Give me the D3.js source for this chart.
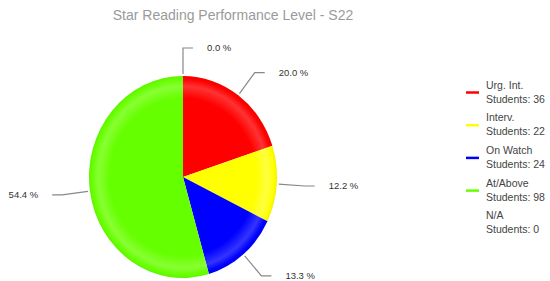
<!DOCTYPE html>
<html>
<head>
<meta charset="utf-8">
<script src="https://cdn.jsdelivr.net/npm/d3@7"></script>
<style>
  body { margin: 0; background: #fff; }
  svg { font-family: "Liberation Sans", Arial, sans-serif; }
</style>
</head>
<body>
<svg id="chart" width="550" height="281"></svg>
<script>
// chart data
const categories = ["Urg. Int.", "Interv.", "On Watch", "At/Above", "N/A"];
const students = [36, 22, 24, 98, 0];
const colors = ["#ff0000", "#ffff00", "#0000ff", "#66ff00", "#cccccc"];
const lighter = ["#ff3333", "#ffff40", "#3434ff", "#88ff33", "#dddddd"];

const title = "Star Reading Performance Level - S22";

let svg = d3.select("#chart");

const cx = 183, cy = 177, rx = 94, ry = 101;

// title
svg.append("text")
    .text(title)
    .attr("x", 233)
    .attr("y", 20)
    .attr("text-anchor", "middle")
    .attr("font-size", 14)
    .attr("fill", "#9a9a9a");

let total = d3.sum(students);

// pie starts at 12 o'clock, zero slice goes first
let order = [4, 0, 1, 2, 3];
let pie = d3.pie()
    .sort(null)
    .value(i => students[i]);
let arcs = pie(order);

// gradients for the rim shading
let defs = svg.append("defs");
colors.forEach((c, i) => {
    let g = defs.append("radialGradient")
        .attr("id", "grad" + i)
        .attr("gradientUnits", "userSpaceOnUse")
        .attr("cx", 0).attr("cy", 0).attr("r", rx);
    g.append("stop").attr("offset", "0%").attr("stop-color", c);
    g.append("stop").attr("offset", "78%").attr("stop-color", c);
    g.append("stop").attr("offset", "90%").attr("stop-color", lighter[i]);
    g.append("stop").attr("offset", "97%").attr("stop-color", c);
    g.append("stop").attr("offset", "100%").attr("stop-color", d3.color(c).darker(0.15));
});

let arc = d3.arc().innerRadius(0).outerRadius(rx);

let pieG = svg.append("g")
    .attr("transform", `translate(${cx},${cy}) scale(1,${ry / rx})`);

pieG.selectAll("path")
    .data(arcs.filter(d => d.value > 0))
    .join("path")
    .attr("d", arc)
    .attr("fill", d => `url(#grad${d.data})`);

// labels with leader lines
let leader = 28, hLen = 10, gap = 14;
let labelG = svg.append("g");
arcs.forEach(d => {
    let a = (d.startAngle + d.endAngle) / 2;
    let sx = Math.sin(a), sy = -Math.cos(a);
    let ex = cx + rx * sx, ey = cy + ry * sy;
    let p0 = [ex + 2 * sx, ey + 2 * sy];
    let p1 = [ex + leader * sx, ey + leader * sy];
    let side = sx < -0.01 ? -1 : 1;
    let p2 = [p1[0] + side * hLen, p1[1]];
    labelG.append("path")
        .attr("d", d3.line()([p0, p1, p2]))
        .attr("fill", "none")
        .attr("stroke", "#888")
        .attr("stroke-width", 1.2);
    labelG.append("text")
        .text((d.value / total * 100).toFixed(1) + " %")
        .attr("x", p2[0] + side * gap)
        .attr("y", p2[1])
        .attr("dy", "0.35em")
        .attr("text-anchor", side < 0 ? "end" : "start")
        .attr("font-size", 9.5)
        .attr("fill", "#333");
});

// legend
let legend = svg.append("g").attr("transform", "translate(466,85)");
categories.forEach((name, i) => {
    let g = legend.append("g").attr("transform", `translate(0,${i * 32.7})`);
    if (students[i] > 0) {
        g.append("line")
            .attr("x1", 0).attr("x2", 13)
            .attr("y1", 7.5).attr("y2", 7.5)
            .attr("stroke", colors[i])
            .attr("stroke-width", 2.5);
    }
    g.append("text")
        .text(name)
        .attr("x", 20).attr("y", 0)
        .attr("dy", "0.35em")
        .attr("font-size", 10.5)
        .attr("fill", "#444");
    g.append("text")
        .text("Students: " + students[i])
        .attr("x", 20).attr("y", 14)
        .attr("dy", "0.35em")
        .attr("font-size", 10.5)
        .attr("fill", "#444");
});
</script>
</body>
</html>
